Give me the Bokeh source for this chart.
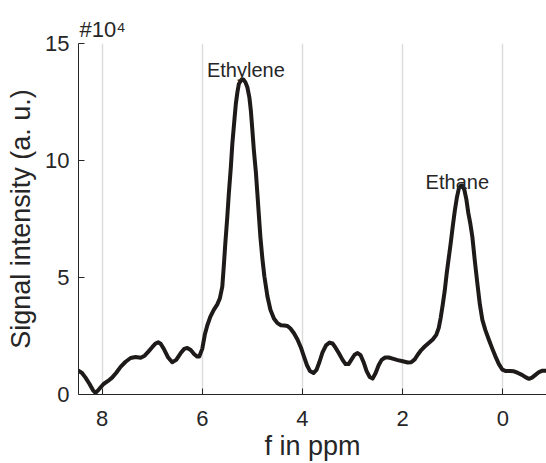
from bokeh.plotting import figure
from bokeh.models import Range1d, FixedTicker, Label
from bokeh.embed import file_html
from bokeh.resources import INLINE

# Chemical shift axis (ppm) and signal intensity (units of 1e4)
ppm = [
    8.48, 8.40, 8.33, 8.25, 8.18, 8.13, 8.07, 7.97, 7.88, 7.80,
    7.72, 7.63, 7.53, 7.43, 7.33, 7.23, 7.15, 7.08, 7.00, 6.93,
    6.88, 6.83, 6.76, 6.68, 6.60, 6.52, 6.43, 6.36, 6.30, 6.23,
    6.16, 6.10, 6.06, 6.00, 5.95, 5.90, 5.84, 5.77, 5.70, 5.65,
    5.60, 5.57, 5.54, 5.50, 5.47, 5.43, 5.40, 5.36, 5.33, 5.30,
    5.27, 5.22, 5.18, 5.14, 5.10, 5.06, 5.03, 5.00, 4.97, 4.93,
    4.90, 4.87, 4.84, 4.80, 4.76, 4.70, 4.64, 4.57, 4.50, 4.43,
    4.36, 4.30, 4.24, 4.17, 4.10, 4.03, 3.97, 3.91, 3.85, 3.78,
    3.72, 3.66, 3.60, 3.53, 3.46, 3.40, 3.34, 3.27, 3.20, 3.14,
    3.08, 3.02, 2.96, 2.90, 2.84, 2.78, 2.72, 2.66, 2.60, 2.54,
    2.48, 2.42, 2.35, 2.28, 2.20, 2.10, 2.00, 1.90, 1.83, 1.76,
    1.70, 1.63, 1.56, 1.48, 1.40, 1.33, 1.28, 1.24, 1.20, 1.16,
    1.12, 1.08, 1.04, 1.00, 0.96, 0.92, 0.88, 0.84, 0.81, 0.77,
    0.73, 0.69, 0.65, 0.61, 0.56, 0.51, 0.46, 0.41, 0.35, 0.28,
    0.21, 0.15, 0.08, 0.01, -0.06, -0.14, -0.22, -0.30, -0.38, -0.45,
    -0.52, -0.58, -0.65, -0.72, -0.79, -0.87,
]
intensity = [
    1.03, 0.92, 0.72, 0.45, 0.18, 0.07, 0.20, 0.45, 0.58, 0.72,
    0.92, 1.18, 1.40, 1.56, 1.60, 1.57, 1.66, 1.82, 2.02, 2.18,
    2.23, 2.17, 1.92, 1.58, 1.38, 1.48, 1.77, 1.95, 1.99, 1.90,
    1.72, 1.62, 1.62, 1.95, 2.55, 2.95, 3.32, 3.62, 3.85, 4.10,
    4.61, 5.50, 6.46, 7.60, 8.58, 9.70, 10.71, 11.70, 12.42, 12.90,
    13.27, 13.44, 13.46, 13.35, 13.13, 12.70, 12.13, 11.30, 10.43, 9.50,
    8.58, 7.65, 6.74, 5.80, 5.04, 4.20, 3.62, 3.25, 3.05, 2.96,
    2.95, 2.93, 2.82, 2.62, 2.35, 2.00, 1.62, 1.25, 1.00, 0.92,
    1.05, 1.40, 1.80, 2.10, 2.22, 2.18, 2.00, 1.75, 1.48, 1.30,
    1.30, 1.50, 1.70, 1.77, 1.68, 1.38, 1.00, 0.75, 0.68, 0.92,
    1.25, 1.48, 1.58, 1.58, 1.53, 1.47, 1.42, 1.37, 1.38, 1.50,
    1.70, 1.90, 2.05, 2.20, 2.35, 2.55, 2.85, 3.30, 3.85, 4.45,
    5.20, 5.85, 6.50, 7.20, 7.85, 8.40, 8.80, 8.92, 8.93, 8.75,
    8.35, 7.75, 7.30, 6.74, 5.70, 4.75, 3.85, 3.19, 2.75, 2.34,
    1.95, 1.63, 1.30, 1.06, 1.00, 1.00, 0.99, 0.92, 0.84, 0.74,
    0.67, 0.72, 0.84, 0.96, 1.02, 1.02,
]

x_ticks = [8, 6, 4, 2, 0]
y_ticks = [0, 5, 10, 15]

# Peak annotations: name, ppm position, text baseline in intensity units
peak_names = ["Ethylene", "Ethane"]
peak_ppm = [5.13, 0.91]
peak_label_y = [13.88, 9.07]

FONT = "Liberation Sans"
INK = "#262626"

p = figure(
    width=546, height=463,
    x_range=Range1d(8.47, -0.87), y_range=Range1d(0, 15),
    output_backend="svg", toolbar_location=None,
    min_border_left=78, min_border_right=0,
    min_border_top=43, min_border_bottom=68,
    title="#10\u2074",
)
p.outline_line_color = None
p.background_fill_color = "white"
p.border_fill_color = "white"

# Exponent note above the y axis
p.title.align = "left"
p.title.offset = 1
p.title.standoff = 4
p.title.text_font = FONT
p.title.text_font_size = "22px"
p.title.text_font_style = "normal"
p.title.text_color = INK

# Vertical grid lines only
p.xgrid.ticker = FixedTicker(ticks=x_ticks)
p.xgrid.grid_line_color = "#dcdcdc"
p.xgrid.grid_line_width = 1.5
p.ygrid.visible = False

for ax in (p.xaxis[0], p.yaxis[0]):
    ax.axis_line_color = INK
    ax.axis_line_width = 1
    ax.major_tick_line_color = INK
    ax.major_tick_in = 6
    ax.major_tick_out = 0
    ax.minor_tick_line_color = None
    ax.major_label_text_font = FONT
    ax.major_label_text_font_size = "22px"
    ax.major_label_text_color = INK
    ax.axis_label_text_font = FONT
    ax.axis_label_text_font_size = "27px"
    ax.axis_label_text_font_style = "normal"
    ax.axis_label_text_color = INK

p.xaxis.ticker = FixedTicker(ticks=x_ticks)
p.yaxis.ticker = FixedTicker(ticks=y_ticks)
p.xaxis.axis_label = "f in ppm"
p.yaxis.axis_label = "Signal intensity (a. u.)"
p.xaxis.major_label_standoff = 16
p.yaxis.major_label_standoff = 9
p.xaxis.axis_label_standoff = 2
p.xaxis.axis_label_text_line_height = 0.8
p.yaxis.axis_label_standoff = 6

p.line(ppm, intensity, line_color="#1e1a1a", line_width=4,
       line_join="round", line_cap="round")

for name, x, y in zip(peak_names, peak_ppm, peak_label_y):
    p.add_layout(Label(x=x, y=y, text=name, text_align="center",
                       text_baseline="alphabetic", text_font=FONT,
                       text_font_size="20px", text_color=INK))

open("out.html", "w").write(file_html(p, INLINE))
